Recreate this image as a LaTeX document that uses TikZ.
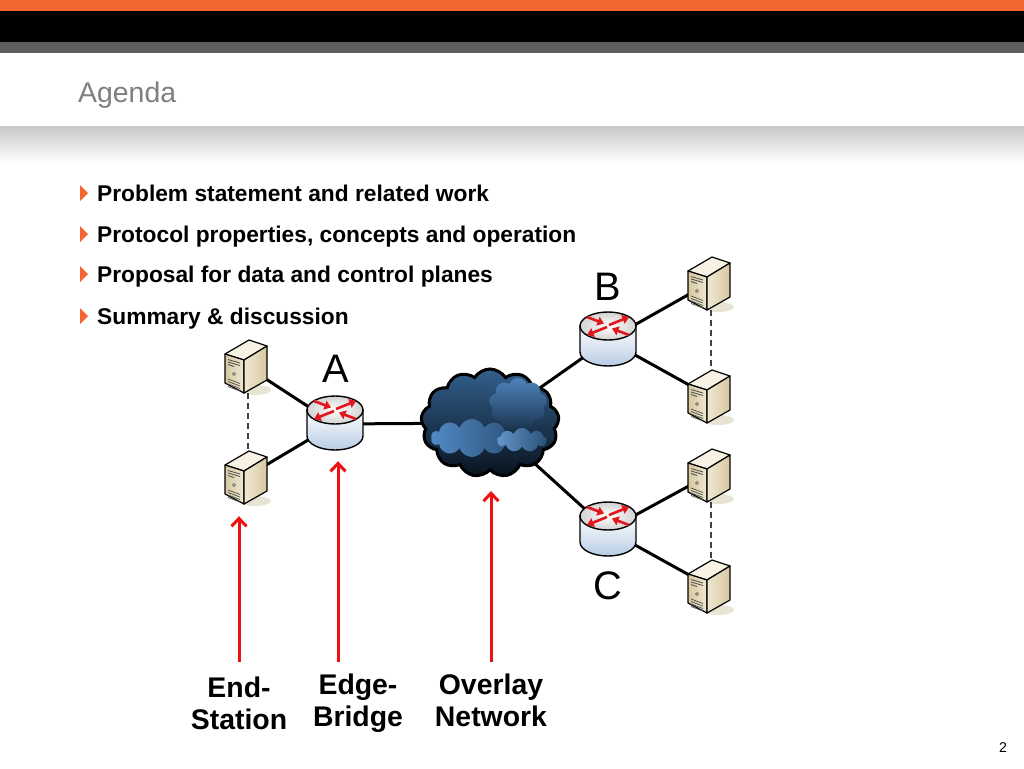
\documentclass[tikz,border=0pt]{standalone}
\usepackage{fontspec}
\setmainfont{Liberation Sans}
\usetikzlibrary{shapes.symbols, arrows.meta, calc, backgrounds}

\definecolor{barorange}{HTML}{F26430}
\definecolor{bargray}{HTML}{5E5E5E}
\definecolor{titlegray}{HTML}{7F7F7F}
\definecolor{arrowred}{HTML}{EE1111}
\definecolor{iconred}{HTML}{E3161D}
\definecolor{lidgray}{HTML}{D2D2D2}
\definecolor{bodyblue}{HTML}{B7CCE4}
\definecolor{servtop}{HTML}{F7F2E4}
\definecolor{servfront}{HTML}{D6C8A0}
\definecolor{servside}{HTML}{EFE8D2}
\definecolor{servshade}{HTML}{E8E3D2}
\definecolor{cloudtop}{HTML}{335F8C}
\definecolor{clouddark}{HTML}{08131E}
\definecolor{puffblue}{HTML}{5289C4}

\tikzstyle{bullet} = [fill=barorange]
\tikzstyle{bullettext} = [anchor=base west, inner sep=0pt, font=\fontsize{22.75}{27}\selectfont\bfseries]
\tikzstyle{site} = [anchor=base, inner sep=0pt, font=\fontsize{39.8}{44}\selectfont]
\tikzstyle{caption} = [anchor=north, inner sep=0pt, align=center, font=\fontsize{28.4}{31.5}\selectfont\bfseries]
\tikzstyle{routerbox} = [rectangle, minimum width=56pt, minimum height=54pt, inner sep=0pt]
\tikzstyle{serverbox} = [rectangle, minimum width=42pt, minimum height=54pt, inner sep=0pt]
\tikzstyle{cloudpuff} = [cloud, inner sep=0pt]
\tikzstyle{wire} = [line width=3pt, black]
\tikzstyle{pointer} = [line width=3pt, arrowred, -{Straight Barb[length=8pt, width=15pt]}]
\tikzstyle{flow} = [iconred, line width=2.6pt, -{Triangle[length=6.5pt, width=9pt]}]

\tikzset{
  router/.pic={
    \draw[line width=1.4pt, top color=white, bottom color=bodyblue]
      (-28,-14) -- (-28,12) arc[start angle=180, end angle=0, x radius=28, y radius=14] -- (28,-14) -- cycle;
    \draw[line width=1.4pt, inner color=white, outer color=lidgray] (0,-14) ellipse[x radius=28, y radius=14];
    \draw[flow] (1,-15) -- (21,-23);
    \draw[flow] (-1,-13) -- (-21,-5);
    \draw[flow] (-21,-23) -- (-4,-16.5);
    \draw[flow] (21,-5) -- (4,-11.5);
  },
  server/.pic={
    \fill[servshade] (9,24) ellipse[x radius=16, y radius=5];
    \draw[line width=1.2pt, line join=round, fill=servtop] (-21,-12) -- (3,-26) -- (21,-20) -- (-2,-6) -- cycle;
    \draw[line width=1.2pt, line join=round, left color=servfront, right color=servside] (-21,-12) -- (-2,-6) -- (-2,27) -- (-21,17) -- cycle;
    \draw[line width=1.2pt, line join=round, left color=servside, right color=servfront] (-2,-6) -- (21,-20) -- (21,14) -- (-2,27) -- cycle;
    \draw[line width=0.8pt, black!70] (-18,-6.5) -- (-6,-3) (-18,-4) -- (-6,-0.5) (-18,-1.5) -- (-12,0.5);
    \draw[line width=0.6pt, black!70] (-12,8) circle[radius=1.5];
    \draw[line width=0.7pt, black!70] (-18,13) -- (-6,17.5) (-18,15.5) -- (-6,20) (-18,18) -- (-6,22.5) (-18,20.5) -- (-6,25);
  }
}

\begin{document}
\begin{tikzpicture}[x=1pt, y=-1pt]
		\useasboundingbox (0,0) rectangle (1024,768);

		% slide frame
		\fill[barorange] (0,0) rectangle (1024,11);
		\fill[black] (0,11) rectangle (1024,42);
		\fill[bargray] (0,42) rectangle (1024,53);
		\shade[top color=black!22, bottom color=white] (0,126) rectangle (1024,162);
		\node (title) [anchor=base west, inner sep=0pt, text=titlegray, font=\fontsize{28.4}{34}\selectfont] at (78,102) {Agenda};
		\node (pagenum) [anchor=base, inner sep=0pt, font=\fontsize{14.2}{17}\selectfont] at (1003,752) {2};

		% agenda items
		\fill[bullet] (80,185) -- (88,193) -- (80,201) -- cycle;
		\fill[bullet] (80,226) -- (88,234) -- (80,242) -- cycle;
		\fill[bullet] (80,266) -- (88,274) -- (80,282) -- cycle;
		\fill[bullet] (80,308) -- (88,316) -- (80,324) -- cycle;
		\node (item1) [bullettext] at (97,201) {Problem statement and related work};
		\node (item2) [bullettext] at (97,242) {Protocol properties, concepts and operation};
		\node (item3) [bullettext] at (97,282) {Proposal for data and control planes};
		\node (item4) [bullettext] at (97,324) {Summary \& discussion};

		% bridges and end stations
		\node (rA) [routerbox] at (335,424) {};
		\node (rB) [routerbox] at (608,340) {};
		\node (rC) [routerbox] at (608,530) {};
		\node (sA1) [serverbox] at ($(rA) + (-89,-58)$) {};
		\node (sA2) [serverbox] at ($(rA) + (-89,53)$) {};
		\node (sB1) [serverbox] at ($(rB) + (101,-57)$) {};
		\node (sB2) [serverbox] at ($(rB) + (101,56)$) {};
		\node (sC1) [serverbox] at ($(rC) + (101,-55)$) {};
		\node (sC2) [serverbox] at ($(rC) + (101,56)$) {};
		\pic at (rA) {router};
		\pic at (rB) {router};
		\pic at (rC) {router};
		\pic at (sA1) {server};
		\pic at (sA2) {server};
		\pic at (sB1) {server};
		\pic at (sB2) {server};
		\pic at (sC1) {server};
		\pic at (sC2) {server};

		\node (labelA) [site] at ($(rA) + (1,-42)$) {A};
		\node (labelB) [site] at ($(rB) + (0,-40)$) {B};
		\node (labelC) [site] at ($(rC) + (0,69)$) {C};

		% overlay cloud
		\node (cloud) [cloudpuff, cloud puffs=13, cloud puff arc=115, aspect=1.3, minimum width=138pt, minimum height=108pt, draw=black, line width=3pt, top color=cloudtop, bottom color=clouddark] at (490,423) {};
		\node (puffR) [cloudpuff, cloud puffs=9, cloud puff arc=140, aspect=1.1, minimum width=58pt, minimum height=52pt, top color=puffblue!85!cloudtop, bottom color=cloudtop!45!clouddark] at (518,404) {};
		\node (puffL) [cloudpuff, cloud puffs=10, cloud puff arc=140, aspect=2.3, minimum width=82pt, minimum height=38pt, left color=puffblue, right color=cloudtop!85!clouddark] at (472,438) {};
		\node (puffB) [cloudpuff, cloud puffs=9, cloud puff arc=140, aspect=2.3, minimum width=50pt, minimum height=24pt, left color=puffblue!90, right color=cloudtop!80!clouddark] at (522,440) {};

		\begin{pgfonlayer}{background}
			\fill[white] (0,0) rectangle (1024,768);
			\draw[wire] (rA.center) -- (sA1.center);
			\draw[wire] (rA.center) -- (sA2.center);
			\draw[wire] (rA.center) -- (cloud.center);
			\draw[wire] (cloud.center) -- (rB.center);
			\draw[wire] (cloud.center) -- (rC.center);
			\draw[wire] (rB.center) -- (sB1.center);
			\draw[wire] (rB.center) -- (sB2.center);
			\draw[wire] (rC.center) -- (sC1.center);
			\draw[wire] (rC.center) -- (sC2.center);
		\end{pgfonlayer}
		\draw[line width=1.2pt, black!75, dash pattern=on 6pt off 4pt] ([xshift=2pt]sA1.south) -- ([xshift=2pt]sA2.north);
		\draw[line width=1.2pt, black!75, dash pattern=on 6pt off 4pt] ([xshift=2pt]sB1.south) -- ([xshift=2pt]sB2.north);
		\draw[line width=1.2pt, black!75, dash pattern=on 6pt off 4pt] ([xshift=2pt]sC1.south) -- ([xshift=2pt]sC2.north);

		% captions
		\node (es) [caption] at (239,677) {End-\\Station};
		\node (eb) [caption] at (358,674) {Edge-\\Bridge};
		\node (ov) [caption] at (491,674) {Overlay\\Network};
		\coordinate (esfoot) at (239,662);
		\coordinate (ebfoot) at (338,662);
		\coordinate (ovfoot) at (491,662);
		\draw[pointer, shorten >=12pt] (esfoot) -- (esfoot |- sA2.south);
		\draw[pointer, shorten >=10pt] (ebfoot) -- (ebfoot |- rA.south);
		\draw[pointer, shorten >=19pt] (ovfoot) -- (ovfoot |- cloud.south);
	\end{tikzpicture}
\end{document}
